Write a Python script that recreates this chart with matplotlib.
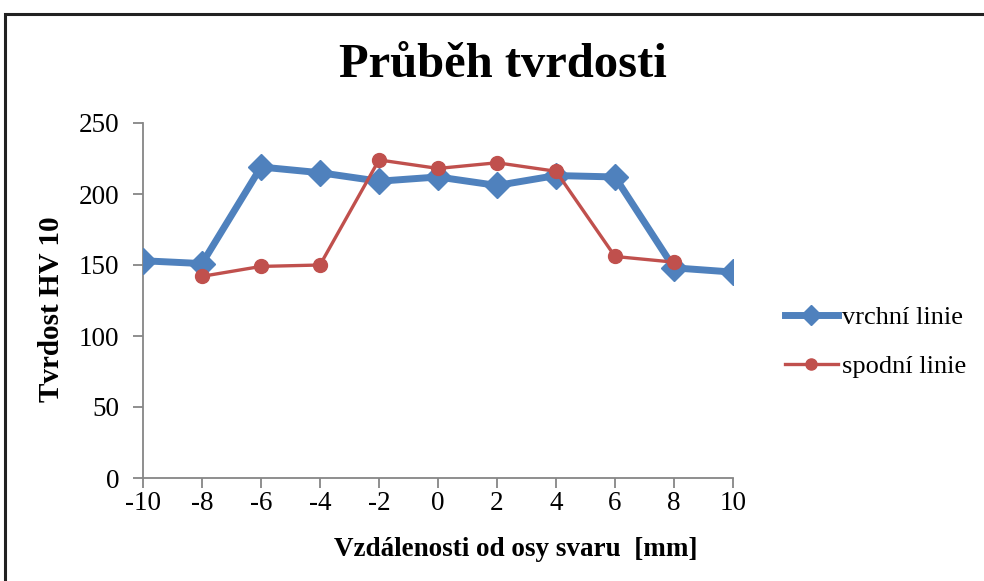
import matplotlib.pyplot as plt
from matplotlib.patches import Rectangle

plt.rcParams['font.family'] = ['Liberation Serif', 'DejaVu Serif']

# vzdalenost od osy svaru [mm]
x_vrchni = [-10, -8, -6, -4, -2, 0, 2, 4, 6, 8, 10]
hv_vrchni = [153, 151, 219, 215, 209, 212, 206, 213, 212, 148, 145]

x_spodni = [-8, -6, -4, -2, 0, 2, 4, 6, 8]
hv_spodni = [142, 149, 150, 224, 218, 222, 216, 156, 152]

x_ticks = [-10, -8, -6, -4, -2, 0, 2, 4, 6, 8, 10]
y_ticks = [0, 50, 100, 150, 200, 250]

W, H = 984, 581
fig = plt.figure(figsize=(W / 100, H / 100), dpi=100)

# ramecek kolem grafu (spodni a prava hrana jsou mimo obrazek)
fig.patches.append(Rectangle((5 / W, -0.2), 1.4, 1.2 - 13.5 / H, transform=fig.transFigure,
                             fill=False, edgecolor='#222222', linewidth=2.2))

ax = fig.add_axes([143 / W, 1 - 478 / H, (733 - 143) / W, (478 - 123) / H])

ax.plot(x_vrchni, hv_vrchni, color='#4F81BD', linewidth=5, marker='D',
        markersize=13, label='vrchní linie', solid_joinstyle='round', zorder=3)
ax.plot(x_spodni, hv_spodni, color='#C0504D', linewidth=2.4, marker='o',
        markersize=10, label='spodní linie', zorder=4)

ax.set_xlim(-10, 10)
ax.set_ylim(0, 250)
ax.set_xticks(x_ticks)
ax.set_yticks(y_ticks)
ax.set_xticklabels([str(v) for v in x_ticks])
ax.tick_params(axis='both', labelsize=19.5, color='#868686', length=7, width=1.3, direction='out')
ax.tick_params(axis='x', pad=2)
ax.tick_params(axis='y', pad=10)

for s in ['top', 'right']:
    ax.spines[s].set_visible(False)
for s in ['left', 'bottom']:
    ax.spines[s].set_color('#868686')
    ax.spines[s].set_linewidth(1.3)

fig.text(503 / W, 1 - 65 / H, 'Průběh tvrdosti', ha='center', va='center',
         fontsize=35, fontweight='bold')
fig.text(52 / W, 1 - 309 / H, 'Tvrdost HV 10', ha='center', va='center',
         rotation=90, fontsize=21, fontweight='bold')
fig.text(516 / W, 1 - 550 / H, 'Vzdálenosti od osy svaru  [mm]', ha='center', va='center',
         fontsize=19.5, fontweight='bold')

fig.legend(loc='center left', bbox_to_anchor=(785 / W, 1 - 342 / H), frameon=False,
           fontsize=19, handlelength=2.0, handletextpad=0.15, labelspacing=0.95,
           borderaxespad=0, borderpad=0, markerscale=0.8)

fig.savefig('out.png', dpi=100)
